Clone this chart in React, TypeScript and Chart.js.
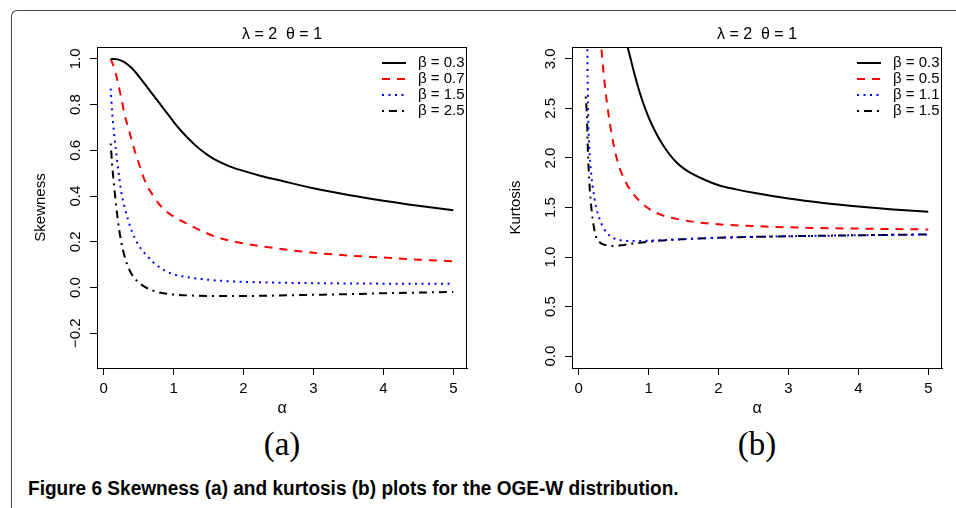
import React, { useEffect, useRef } from "react";
import { Chart, registerables } from "chart.js";

Chart.register(...registerables);

// ---------- data ----------
const xLimits = [0.1, 5];
const xTickValues = [0, 1, 2, 3, 4, 5];

const skewLimits = [-0.3, 1];
const skewTickValues = [-0.2, 0, 0.2, 0.4, 0.6, 0.8, 1.0];
const skewTickLabels = ["\u22120.2", "0.0", "0.2", "0.4", "0.6", "0.8", "1.0"];
const skewLegend = ["\u03B2 = 0.3", "\u03B2 = 0.7", "\u03B2 = 1.5", "\u03B2 = 2.5"];

const kurtLimits = [0, 3];
const kurtTickValues = [0, 0.5, 1, 1.5, 2, 2.5, 3];
const kurtTickLabels = ["0.0", "0.5", "1.0", "1.5", "2.0", "2.5", "3.0"];
const kurtLegend = ["\u03B2 = 0.3", "\u03B2 = 0.5", "\u03B2 = 1.1", "\u03B2 = 1.5"];

// Skewness, beta = 0.3
const skewAlpha1 = [0.1, 0.15, 0.2, 0.3, 0.4, 0.5, 0.6, 0.7, 0.8, 0.9, 1.0, 1.1, 1.2, 1.3, 1.4, 1.5, 1.6, 1.8, 2.0, 2.25, 2.5, 3.0, 3.5, 4.0, 4.5, 5.0];
const skewBeta03 = [1.0, 1.0, 0.998, 0.985, 0.96, 0.925, 0.885, 0.845, 0.805, 0.765, 0.725, 0.688, 0.655, 0.625, 0.599, 0.577, 0.558, 0.53, 0.51, 0.488, 0.47, 0.434, 0.405, 0.38, 0.358, 0.338];
// Skewness, beta = 0.7
const skewAlpha2 = [0.1, 0.15, 0.2, 0.25, 0.3, 0.35, 0.4, 0.45, 0.5, 0.6, 0.7, 0.8, 0.9, 1.0, 1.2, 1.4, 1.6, 1.8, 2.0, 2.5, 3.0, 3.5, 4.0, 4.5, 5.0];
const skewBeta07 = [1.0, 0.96, 0.9, 0.83, 0.755, 0.7, 0.645, 0.592, 0.545, 0.458, 0.405, 0.362, 0.332, 0.31, 0.278, 0.248, 0.222, 0.205, 0.193, 0.17, 0.152, 0.14, 0.131, 0.122, 0.115];
// Skewness, beta = 1.5
const skewAlpha3 = [0.1, 0.12, 0.15, 0.2, 0.25, 0.3, 0.4, 0.5, 0.6, 0.7, 0.8, 0.9, 1.0, 1.2, 1.4, 1.7, 2.0, 2.5, 3.0, 4.0, 5.0];
const skewBeta15 = [0.87, 0.77, 0.67, 0.535, 0.42, 0.35, 0.248, 0.185, 0.145, 0.113, 0.088, 0.07, 0.058, 0.045, 0.037, 0.029, 0.025, 0.021, 0.019, 0.017, 0.016];
// Skewness, beta = 2.5
const skewAlpha4 = [0.1, 0.12, 0.15, 0.2, 0.25, 0.3, 0.35, 0.4, 0.5, 0.6, 0.7, 0.8, 1.0, 1.25, 1.5, 2.0, 2.5, 3.0, 3.5, 4.0, 4.5, 5.0];
const skewBeta25 = [0.63, 0.54, 0.44, 0.3, 0.2, 0.135, 0.09, 0.058, 0.022, 0.001, -0.013, -0.022, -0.031, -0.035, -0.037, -0.037, -0.035, -0.032, -0.029, -0.025, -0.022, -0.019];

// Kurtosis, beta = 0.3
const kurtAlpha1 = [0.6, 0.65, 0.7, 0.75, 0.8, 0.9, 1.0, 1.1, 1.2, 1.3, 1.4, 1.5, 1.6, 1.8, 2.0, 2.25, 2.5, 3.0, 3.5, 4.0, 4.5, 5.0];
const kurtBeta03 = [3.45, 3.28, 3.12, 2.98, 2.84, 2.6, 2.41, 2.26, 2.135, 2.035, 1.955, 1.895, 1.85, 1.78, 1.725, 1.683, 1.648, 1.59, 1.545, 1.51, 1.48, 1.456];
// Kurtosis, beta = 0.5
const kurtAlpha2 = [0.25, 0.3, 0.35, 0.4, 0.45, 0.5, 0.55, 0.6, 0.7, 0.8, 0.9, 1.0, 1.2, 1.4, 1.6, 2.0, 2.5, 3.0, 4.0, 5.0];
const kurtBeta05 = [4.0, 3.35, 2.9, 2.58, 2.33, 2.13, 1.98, 1.87, 1.72, 1.62, 1.545, 1.49, 1.42, 1.385, 1.36, 1.33, 1.313, 1.3, 1.287, 1.278];
// Kurtosis, beta = 1.1
const kurtAlpha3 = [0.1, 0.11, 0.12, 0.13, 0.14, 0.16, 0.18, 0.2, 0.25, 0.3, 0.35, 0.4, 0.5, 0.6, 0.7, 0.8, 1.0, 1.2, 1.5, 2.0, 2.5, 3.0, 3.5, 4.0, 4.5, 5.0];
const kurtBeta11 = [5.0, 4.0, 3.3, 2.65, 2.3, 2.0, 1.83, 1.71, 1.5, 1.38, 1.3, 1.245, 1.19, 1.17, 1.163, 1.162, 1.165, 1.17, 1.18, 1.195, 1.203, 1.21, 1.215, 1.22, 1.224, 1.228];
// Kurtosis, beta = 1.5
const kurtAlpha4 = [0.1, 0.11, 0.12, 0.13, 0.14, 0.15, 0.17, 0.2, 0.25, 0.3, 0.35, 0.4, 0.5, 0.6, 0.7, 0.8, 1.0, 1.2, 1.5, 2.0, 2.5, 3.0, 3.5, 4.0, 4.5, 5.0];
const kurtBeta15 = [2.62, 2.52, 2.36, 2.1, 1.92, 1.78, 1.58, 1.38, 1.2, 1.15, 1.128, 1.118, 1.112, 1.118, 1.128, 1.138, 1.155, 1.168, 1.18, 1.195, 1.203, 1.21, 1.215, 1.22, 1.224, 1.228];

const panelTitle = "\u03BB = 2  \u03B8 = 1";
const captionText = "Figure 6 Skewness (a) and kurtosis (b) plots for the OGE-W distribution.";

// ---------- styles ----------
const SANS = '"Liberation Sans Narrow", "Arial Narrow", "Liberation Sans", Arial, sans-serif';
const SERIF = '"Liberation Serif", "Times New Roman", serif';
const CANVAS_W = 478;
const CANVAS_H = 420;

const lineStyles = [
  { color: "#000000", dash: [] as number[] },
  { color: "#FF0000", dash: [8, 7] },
  { color: "#0000FF", dash: [2, 4.5] },
  { color: "#000000", dash: [2, 5, 8, 5] },
];

function pad(lim: number[]) {
  const r = (lim[1] - lim[0]) * 0.04;
  return [lim[0] - r, lim[1] + r];
}

function pts(xs: number[], ys: number[]) {
  return xs.map((x, i) => ({ x, y: ys[i] }));
}

const panelPlugin = {
  id: "panelDeco",
  afterDraw(chart: any, _args: any, opts: any) {
    const { ctx, chartArea: a, scales } = chart;
    const ys = scales.y;
    const cx = (a.left + a.right) / 2;
    ctx.save();
    ctx.strokeStyle = "#000";
    ctx.lineWidth = 1;
    ctx.setLineDash([]);
    ctx.strokeRect(a.left + 0.5, a.top + 0.5, a.right - a.left - 1, a.bottom - a.top);
    ctx.fillStyle = "#000";
    ctx.font = `16px ${SANS}`;
    ctx.textAlign = "center";
    ctx.textBaseline = "alphabetic";
    ctx.fillText(opts.title, cx, 39);
    ctx.fillText("\u03B1", cx, 413);
    ctx.font = `15px ${SANS}`;
    opts.yTicks.forEach((v: number, i: number) => {
      const py = ys.getPixelForValue(v);
      ctx.save();
      ctx.translate(a.left - 17.5, py);
      ctx.rotate(-Math.PI / 2);
      ctx.textAlign = "center";
      ctx.fillText(opts.yLabels[i], 0, 0);
      ctx.restore();
    });
    ctx.save();
    ctx.font = `15px ${SANS}`;
    ctx.translate(a.left - 52, (a.top + a.bottom) / 2);
    ctx.rotate(-Math.PI / 2);
    ctx.textAlign = "center";
    ctx.fillText(opts.yTitle, 0, 0);
    ctx.restore();
    const rows = [63, 79, 95, 111];
    chart.data.datasets.forEach((ds: any, i: number) => {
      const ry = rows[i];
      ctx.save();
      ctx.strokeStyle = ds.borderColor;
      ctx.lineWidth = ds.borderWidth;
      ctx.setLineDash(ds.borderDash || []);
      ctx.beginPath();
      ctx.moveTo(a.right - 85, ry);
      ctx.lineTo(a.right - 61, ry);
      ctx.stroke();
      ctx.restore();
      ctx.font = `15px ${SANS}`;
      ctx.textAlign = "left";
      ctx.textBaseline = "middle";
      ctx.fillStyle = "#000";
      ctx.fillText(ds.label, a.right - 49, ry);
    });
    ctx.restore();
  },
};

function makeConfig(
  series: { x: number[]; y: number[] }[],
  labels: string[],
  yLim: number[],
  yTicks: number[],
  yLabels: string[],
  yTitle: string,
  yAxisWidth: number,
  rightPad: number
): any {
  const xr = pad(xLimits);
  const yr = pad(yLim);
  const gridOpts = {
    drawOnChartArea: false,
    drawTicks: true,
    tickLength: 7,
    color: "#000",
    lineWidth: 1,
  };
  return {
    type: "line",
    data: {
      datasets: series.map((s, i) => ({
        label: labels[i],
        data: pts(s.x, s.y),
        borderColor: lineStyles[i].color,
        borderDash: lineStyles[i].dash,
        borderWidth: 2,
        pointRadius: 0,
        fill: false,
        cubicInterpolationMode: "monotone",
      })),
    },
    options: {
      responsive: false,
      animation: false,
      devicePixelRatio: 1,
      layout: { padding: { left: 0, right: rightPad, top: 47, bottom: 0 } },
      plugins: {
        legend: { display: false },
        tooltip: { enabled: false },
        title: { display: false },
        panelDeco: { title: panelTitle, yTicks, yLabels, yTitle },
      },
      scales: {
        x: {
          type: "linear",
          min: xr[0],
          max: xr[1],
          afterBuildTicks: (s: any) => {
            s.ticks = xTickValues.map((v) => ({ value: v }));
          },
          afterFit: (s: any) => {
            s.height = 52;
          },
          grid: gridOpts,
          border: { display: true, color: "#000", width: 1 },
          ticks: {
            font: { family: SANS, size: 15, lineHeight: 1.2 },
            color: "#000",
            padding: 5,
            maxRotation: 0,
            autoSkip: false,
            callback: (v: any) => String(v),
          },
        },
        y: {
          type: "linear",
          min: yr[0],
          max: yr[1],
          afterBuildTicks: (s: any) => {
            s.ticks = yTicks.map((v) => ({ value: v }));
          },
          afterFit: (s: any) => {
            s.width = yAxisWidth;
          },
          grid: gridOpts,
          border: { display: true, color: "#000", width: 1 },
          ticks: { display: false },
        },
      },
    },
    plugins: [panelPlugin],
  };
}

function Panel({ left, config }: { left: number; config: () => any }) {
  const ref = useRef<HTMLCanvasElement>(null);
  useEffect(() => {
    const chart = new Chart(ref.current as HTMLCanvasElement, config());
    return () => chart.destroy();
  }, []);
  return (
    <canvas
      ref={ref}
      width={CANVAS_W}
      height={CANVAS_H}
      style={{ position: "absolute", left, top: 0, width: CANVAS_W, height: CANVAS_H }}
    />
  );
}

const skewConfig = () =>
  makeConfig(
    [
      { x: skewAlpha1, y: skewBeta03 },
      { x: skewAlpha2, y: skewBeta07 },
      { x: skewAlpha3, y: skewBeta15 },
      { x: skewAlpha4, y: skewBeta25 },
    ],
    skewLegend,
    skewLimits,
    skewTickValues,
    skewTickLabels,
    "Skewness",
    97,
    11
  );

const kurtConfig = () =>
  makeConfig(
    [
      { x: kurtAlpha1, y: kurtBeta03 },
      { x: kurtAlpha2, y: kurtBeta05 },
      { x: kurtAlpha3, y: kurtBeta11 },
      { x: kurtAlpha4, y: kurtBeta15 },
    ],
    kurtLegend,
    kurtLimits,
    kurtTickValues,
    kurtTickLabels,
    "Kurtosis",
    94,
    14
  );

const subLabelStyle: React.CSSProperties = {
  position: "absolute",
  top: 428,
  transform: "translateX(-50%)",
  fontFamily: SERIF,
  fontSize: 33,
  lineHeight: "33px",
  whiteSpace: "nowrap",
};

export default function App() {
  return (
    <div
      style={{
        position: "absolute",
        left: 0,
        top: 0,
        width: 956,
        height: 508,
        overflow: "hidden",
        background: "#fff",
      }}
    >
      <div
        style={{
          position: "absolute",
          left: 11,
          top: 10,
          width: 1000,
          height: 600,
          borderTop: "1px solid #444",
          borderLeft: "1px solid #444",
          borderTopLeftRadius: 6,
        }}
      />
      <Panel left={0} config={skewConfig} />
      <Panel left={478} config={kurtConfig} />
      <div style={{ ...subLabelStyle, left: 282 }}>(a)</div>
      <div style={{ ...subLabelStyle, left: 757 }}>(b)</div>
      <div
        style={{
          position: "absolute",
          left: 28,
          top: 478,
          fontFamily: SANS,
          fontWeight: "bold",
          fontSize: 20,
          lineHeight: "20px",
          whiteSpace: "nowrap",
          color: "#000",
          transform: "scaleX(0.952)",
          transformOrigin: "0 0",
        }}
      >
        {captionText}
      </div>
    </div>
  );
}
